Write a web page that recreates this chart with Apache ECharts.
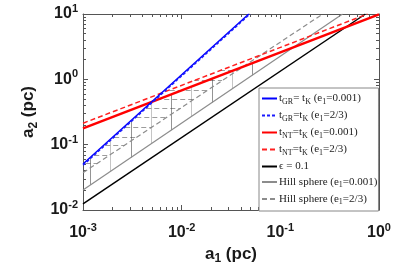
<!DOCTYPE html>
<html><head><meta charset="utf-8">
<script src="https://cdn.jsdelivr.net/npm/echarts@6/dist/echarts.min.js"></script>
<style>html,body{margin:0;padding:0;background:#fff}#c{width:415px;height:277px}</style>
</head><body><div id="c"></div>
<script>
// ---- data ----
const grSolid   = [[0.001, 0.0506], [0.0479, 10]];
const grDashed  = [[0.001, 0.0485], [0.0493, 10]];
const ntSolid   = [[0.001, 0.178], [1.0, 9.86]];
const ntDashed  = [[0.001, 0.213], [0.764, 10]];
const epsLine   = [[0.001, 0.0124], [0.728, 10]];
const hillSolid = [[0.001, 0.0202], [0.427, 10]];
const hillDashed= [[0.001, 0.0372], [0.269, 10]];

// hatch: vertical lines (e1=0.001 region)
const vertX    = [0.00119, 0.0019, 0.00305, 0.0049, 0.00785, 0.0126, 0.0202, 0.0324, 0.0519];
const vertLow  = [0.0242, 0.0391, 0.0634, 0.103, 0.167, 0.270, 0.439, 0.713, 1.153];
const vertHigh = [0.0641, 0.1216, 0.232, 0.444, 0.590, 0.776, 1.021, 1.345, 1.767];
// hatch: horizontal dashed lines (e1=2/3 region)
const horY     = [1.36, 0.955, 0.689, 0.501, 0.365, 0.266, 0.187, 0.131, 0.0989, 0.0695, 0.0525];
const horLeft  = [0.02443, 0.01330, 0.00757, 0.00552, 0.00438, 0.00347, 0.00268, 0.00207, 0.00168, 0.0013, 0.00106];
const horRight = [0.03656, 0.02570, 0.01854, 0.01349, 0.00982, 0.00715, 0.00502, 0.00353, 0.00266, 0.00187, 0.00141];

const xMajor = [0.001, 0.01, 0.1, 1];
const yMajor = [0.01, 0.1, 1, 10];
const xMinor = [0.002,0.003,0.004,0.005,0.006,0.007,0.008,0.009,0.02,0.03,0.04,0.05,0.06,0.07,0.08,0.09,0.2,0.3,0.4,0.5,0.6,0.7,0.8,0.9];
const yMinor = [0.02,0.03,0.04,0.05,0.06,0.07,0.08,0.09,0.2,0.3,0.4,0.5,0.6,0.7,0.8,0.9,2,3,4,5,6,7,8,9];

const legendNames = ['GR1','GR2','NT1','NT2','EPS','HILL1','HILL2'];
const legendText = {
  GR1:  '{n|t}{s|GR}{n|= t}{s|K}{n| (e}{s|1}{n|=0.001)}',
  GR2:  '{n|t}{s|GR}{n|=t}{s|K}{n| (e}{s|1}{n|=2/3)}',
  NT1:  '{n|t}{s|NT}{n|=t}{s|K}{n| (e}{s|1}{n|=0.001)}',
  NT2:  '{n|t}{s|NT}{n|=t}{s|K}{n| (e}{s|1}{n|=2/3)}',
  EPS:  '{n|\u03F5 = 0.1}',
  HILL1:'{n|Hill sphere (e}{s|1}{n|=0.001)}',
  HILL2:'{n|Hill sphere (e}{s|1}{n|=2/3)}'
};

// ---- chart ----
const AX = '#555';
const lblRich = {
  b: {fontFamily:'Liberation Sans', fontWeight:'bold', fontSize:16, color:'#1a1a1a'},
  s: {fontFamily:'Liberation Sans', fontWeight:'bold', fontSize:11, color:'#1a1a1a', padding:[0,0,10,0]}
};
const pow10 = v => '{b|10}{s|' + Math.round(Math.log10(v)) + '}';

function mkAxis(dir, pos, major, isMinor, extra) {
  const base = {
    type:'log', logBase:10,
    min: dir==='x' ? 0.001 : 0.01, max: dir==='x' ? 1 : 10,
    position: pos,
    axisLine:{show: !isMinor, onZero:false, lineStyle:{color:AX, width:1}},
    axisTick:{show:true, inside:true, length: isMinor ? 3 : 5, lineStyle:{color:AX, width:1},
              customValues: isMinor ? (dir==='x'?xMinor:yMinor) : major},
    axisLabel:{show:false},
    splitLine:{show:false}
  };
  return Object.assign(base, extra || {});
}

const nameStyle = {fontFamily:'Liberation Sans', fontWeight:'bold', fontSize:17, color:'#1a1a1a',
  rich:{a:{fontFamily:'Liberation Sans', fontWeight:'bold', fontSize:17, color:'#1a1a1a'},
        s:{fontFamily:'Liberation Sans', fontWeight:'bold', fontSize:12, color:'#1a1a1a', padding:[10,0,0,0]}}};

const xAxis = [
  mkAxis('x','bottom',xMajor,false,{
    axisLabel:{show:true, margin:12, formatter:pow10, rich:lblRich, customValues:xMajor},
    name:'{a|a}{s|1}{a| (pc)}', nameLocation:'middle', nameGap:26, nameTextStyle:nameStyle}),
  mkAxis('x','bottom',xMajor,true),
  mkAxis('x','top',xMajor,false),
  mkAxis('x','top',xMajor,true)
];
const yAxis = [
  mkAxis('y','left',yMajor,false,{
    axisLabel:{show:true, margin:5, formatter:pow10, rich:lblRich, customValues:yMajor},
    name:'{a|a}{s|2}{a| (pc)}', nameLocation:'middle', nameGap:41, nameRotate:90, nameTextStyle:nameStyle}),
  mkAxis('y','left',yMajor,true),
  mkAxis('y','right',yMajor,false),
  mkAxis('y','right',yMajor,true)
];

function lineSeries(name, data, color, width, type, z) {
  return {name, type:'line', data, xAxisIndex:0, yAxisIndex:0, symbol:'none', showSymbol:false,
    clip:true, z: z||3, lineStyle:{color, width, type: type||'solid'}, itemStyle:{color}, silent:true, animation:false};
}

const vertData = vertX.map((x,i) => ({coords:[[x, vertLow[i]],[x, vertHigh[i]]],
  lineStyle:{color: i%2===0 ? '#2a2a2a' : '#8c8c8c', width:1}}));
const horData = horY.map((y,i) => ({coords:[[horLeft[i], y],[horRight[i], y]]}));

const option = {
  animation:false,
  backgroundColor:'#fff',
  grid:{left:83, right:36, top:14, bottom:67, containLabel:false},
  xAxis, yAxis,
  legend:{
    data: legendNames, orient:'vertical', left:259, top:88,
    backgroundColor:'#fff', borderColor:'#888', borderWidth:1, borderRadius:0,
    padding:[5,1,5,2], itemGap:4.5, itemWidth:15, itemHeight:10,
    itemStyle:{opacity:0},
    formatter: n => legendText[n],
    textStyle:{padding:[0,0,0,-3], rich:{
      n:{fontFamily:'Liberation Serif', fontSize:11, color:'#222'},
      s:{fontFamily:'Liberation Serif', fontSize:8, color:'#222', padding:[6,0,0,0]}
    }},
    selectedMode:false, z:10
  },
  series:[
    {name:'vhatch', type:'lines', coordinateSystem:'cartesian2d', xAxisIndex:0, yAxisIndex:0,
      data: vertData, lineStyle:{color:'#333', width:1}, silent:true, z:2, animation:false},
    {name:'hhatch', type:'lines', coordinateSystem:'cartesian2d', xAxisIndex:0, yAxisIndex:0,
      data: horData, lineStyle:{color:'#3a3a3a', width:1, type:[5,3]}, silent:true, z:2, animation:false},
    lineSeries('HILL1', hillSolid, '#8c8c8c', 1.2),
    lineSeries('HILL2', hillDashed, '#8c8c8c', 1.2, [5,3]),
    lineSeries('EPS', epsLine, '#000', 1.5),
    lineSeries('NT1', ntSolid, '#ff0000', 2.5, 'solid', 4),
    lineSeries('NT2', ntDashed, '#ff2020', 1.5, [5,3], 4),
    lineSeries('GR1', grSolid, '#0000ff', 1.5, 'solid', 5),
    lineSeries('GR2', grDashed, '#1a1aff', 1.5, [3,2], 5)
  ]
};
const chart = echarts.init(document.getElementById('c'), null, {renderer:'canvas'});
chart.setOption(option);
</script></body></html>
